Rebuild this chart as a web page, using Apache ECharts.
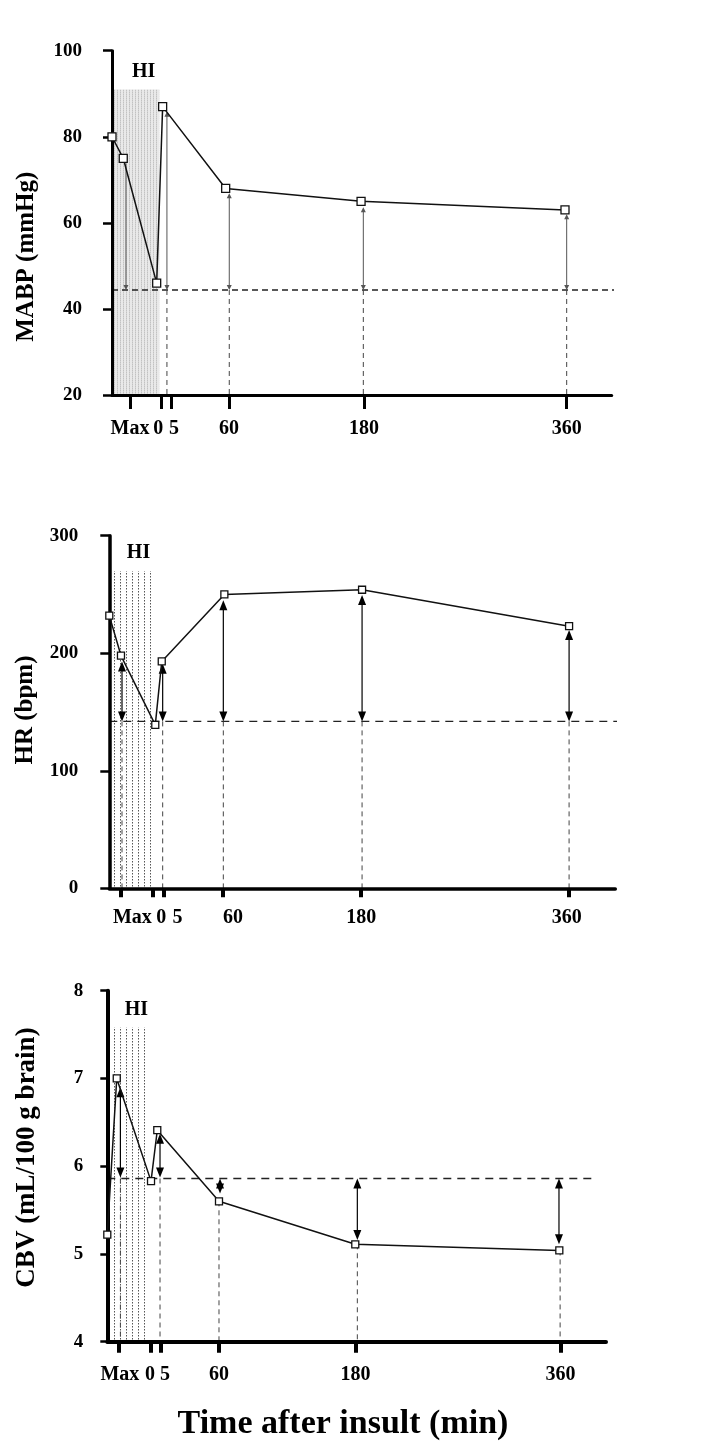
<!DOCTYPE html>
<html>
<head>
<meta charset="utf-8">
<script src="https://cdn.jsdelivr.net/npm/echarts@6/dist/echarts.min.js"></script>
<style>
html,body{margin:0;padding:0;background:#fff;}
#c{width:710px;height:1455px;}
</style>
</head>
<body>
<div id="c"></div>
<script>
// ---------- DATA ----------
// Broken time axis: tick labels and their positions (in minute-equivalent axis units)
const tickLabels = ['Max', '0', '5', '60', '180', '360'];
const tickPos = [-28, 0, 9, 60, 180, 360];

// Panel 1: MABP (mmHg)
const mabpX = [-44, -34, -4.3, 1.0, 57, 177.3, 358.5];
const mabpY = [80, 75, 46, 87, 68, 65, 63];
const mabpLabelPos = [-28, -3, 11, 60, 180, 360];
const mabpArrowX = [-31.6, 4.8, 60.2, 179.3, 360];
const mabpArrowTop = [73.8, 85.8, 66.9, 63.6, 62.0];
const mabpArrowBottom = [44.4, 44.4, 44.4, 44.4, 44.4];
const mabpHeadUp = [0, 1, 1, 1, 1];
const mabpHeadDown = [1, 1, 1, 1, 1];
const mabpDropX = [4.8, 60.2, 179.3, 360];
const mabpDropTop = [44.4, 44.4, 44.4, 44.4];
const mabpRef = 44.4;
const mabpRefX = [-44, 408.7];
const mabpShadeX = [-44, -2];
const mabpShadeTop = 91;

// Panel 2: HR (bpm)
const hrX = [-38, -27.9, 1.8, 7.4, 61.6, 180.8, 360];
const hrY = [232, 198, 139, 193, 250, 254, 223];
const hrLabelPos = [-18, 7, 21, 69, 180, 358];
const hrArrowX = [-27, 8.2, 60.7, 180.8, 360];
const hrArrowTop = [193, 191, 245, 249.6, 219.8];
const hrArrowBottom = [142, 142, 142, 142, 142];
const hrHeadUp = [1, 1, 1, 1, 1];
const hrHeadDown = [1, 1, 1, 1, 1];
const hrDropX = [-27, 8.2, 60.7, 180.8, 360];
const hrDropTop = [142, 142, 142, 142, 142];
const hrRef = 142;
const hrRefX = [-38, 405.6];
const hrShadeX = [-38, -1.3];
const hrShadeTop = 270;

// Panel 3: CBV (mL/100 g brain)
const cbvX = [-38, -29.7, 0.4, 5.9, 60.1, 179.8, 359];
const cbvY = [5.22, 7.0, 5.83, 6.41, 5.60, 5.11, 5.04];
const cbvLabelPos = [-27, -0.5, 12.7, 60, 180, 360];
const cbvArrowX = [-26.5, 8.3, 61, 181.6, 358.7];
const cbvArrowTop = [6.90, 6.37, 5.86, 5.86, 5.86];
const cbvArrowBottom = [5.87, 5.87, 5.69, 5.16, 5.11];
const cbvHeadUp = [1, 1, 1, 1, 1];
const cbvHeadDown = [1, 1, 1, 1, 1];
const cbvDropX = [-26.5, 8.3, 60.1, 181.6, 359.7];
const cbvDropTop = [5.86, 5.86, 5.60, 5.11, 5.04];
const cbvRef = 5.86;
const cbvRefX = [-38, 388.6];
const cbvShadeX = [-38, -1.1];
const cbvShadeTop = 7.58;

const yTitles = ['MABP (mmHg)', 'HR (bpm)', 'CBV (mL/100 g brain)'];
const xTitle = 'Time after insult (min)';

// ---------- STYLE / LAYOUT ----------
const FONT = '"Liberation Serif", "Times New Roman", serif';

function makePattern(w, h, bg, dots) {
  const c = document.createElement('canvas');
  c.width = w; c.height = h;
  const ctx = c.getContext('2d');
  if (bg) { ctx.fillStyle = bg; ctx.fillRect(0, 0, w, h); }
  dots.forEach(d => { ctx.fillStyle = d[2]; ctx.fillRect(d[0], d[1], 1, 1); });
  return c;
}
const patLight = makePattern(3, 2, '#e9e9e9', [[0, 0, '#c2c2c2'], [0, 1, '#d4d4d4']]);
const patDots = makePattern(6, 3, null, [[0, 0, '#555'], [0, 1, '#aaa']]);

const panels = [
  {
    grid: {left: 112, top: 50.7, width: 499.7, height: 344.3},
    xMin: -44, yMin: 20, yMax: 100, yInt: 20,
    x: mabpX, y: mabpY, labelPos: mabpLabelPos,
    arrows: [mabpArrowX, mabpArrowTop, mabpArrowBottom, mabpHeadUp, mabpHeadDown],
    drops: [mabpDropX, mabpDropTop],
    ref: mabpRef, refX: mabpRefX, shadeX: mabpShadeX, shadeTop: mabpShadeTop,
    pattern: patLight,
    axisW: 3, yTickLen: 9, xTickLen: 14, xTickW: 3, yLabelMargin: 30, xLabelMargin: 24,
    arrowStyle: {color: '#555', lw: 1, hw: 2.5, hh: 5},
    symSize: 8, lineW: 1.5, refDash: [6, 4],
    title: {x: 26.7, y: 256.7, size: 25}
  },
  {
    grid: {left: 109.3, top: 535.7, width: 506, height: 352.6},
    xMin: -38, yMin: 0, yMax: 300, yInt: 100,
    x: hrX, y: hrY, labelPos: hrLabelPos,
    arrows: [hrArrowX, hrArrowTop, hrArrowBottom, hrHeadUp, hrHeadDown],
    drops: [hrDropX, hrDropTop],
    ref: hrRef, refX: hrRefX, shadeX: hrShadeX, shadeTop: hrShadeTop,
    pattern: patDots,
    axisW: 3.5, yTickLen: 9, xTickLen: 9, xTickW: 4, yLabelMargin: 31, xLabelMargin: 20,
    arrowStyle: {color: '#000', lw: 1.2, hw: 4, hh: 10},
    symSize: 7, lineW: 1.5, refDash: [8, 6],
    title: {x: 26, y: 710, size: 25}
  },
  {
    grid: {left: 107.3, top: 990.7, width: 498.7, height: 351},
    xMin: -38, yMin: 4, yMax: 8, yInt: 1,
    x: cbvX, y: cbvY, labelPos: cbvLabelPos,
    arrows: [cbvArrowX, cbvArrowTop, cbvArrowBottom, cbvHeadUp, cbvHeadDown],
    drops: [cbvDropX, cbvDropTop],
    ref: cbvRef, refX: cbvRefX, shadeX: cbvShadeX, shadeTop: cbvShadeTop,
    pattern: patDots,
    axisW: 4, yTickLen: 7, xTickLen: 11, xTickW: 4, yLabelMargin: 24, xLabelMargin: 23,
    arrowStyle: {color: '#000', lw: 1.2, hw: 4, hh: 10},
    symSize: 7, lineW: 1.5, refDash: [8, 6],
    title: {x: 27.5, y: 1157.5, size: 27}
  }
];

const grids = [], xAxes = [], yAxes = [], series = [], graphics = [];

panels.forEach((p, i) => {
  grids.push(p.grid);
  const labelPos = p.labelPos;
  xAxes.push({
    type: 'value', gridIndex: i, min: p.xMin, max: 400, z: 6,
    splitLine: {show: false},
    axisLine: {show: true, onZero: false, lineStyle: {color: '#000', width: p.axisW}},
    axisTick: {show: true, customValues: tickPos, length: p.xTickLen, lineStyle: {color: '#000', width: p.xTickW}},
    axisLabel: {
      show: true, customValues: labelPos, margin: p.xLabelMargin,
      formatter: v => { const k = labelPos.indexOf(v); return k >= 0 ? tickLabels[k] : ''; },
      color: '#000', fontSize: 20, fontWeight: 'bold', fontFamily: FONT
    }
  });
  yAxes.push({
    type: 'value', gridIndex: i, min: p.yMin, max: p.yMax, interval: p.yInt, z: 6,
    splitLine: {show: false},
    axisLine: {show: true, onZero: false, lineStyle: {color: '#000', width: p.axisW}},
    axisTick: {show: true, length: p.yTickLen, lineStyle: {color: '#000', width: 2.5}},
    axisLabel: {margin: p.yLabelMargin, color: '#000', fontSize: 19, fontWeight: 'bold', fontFamily: FONT}
  });

  // reference dashed line + HI shading
  series.push({
    type: 'line', xAxisIndex: i, yAxisIndex: i, z: 2, clip: false,
    symbol: 'none', silent: true,
    data: [[p.refX[0], p.ref], [p.refX[1], p.ref]],
    lineStyle: {color: '#222', width: 1.3, type: p.refDash},
    markArea: {
      silent: true,
      itemStyle: {color: {image: p.pattern, repeat: 'repeat'}},
      label: {show: true, position: 'top', distance: 8, offset: [8, 0], formatter: 'HI',
              color: '#000', fontSize: 20, fontWeight: 'bold', fontFamily: FONT},
      data: [[{coord: [p.shadeX[0], p.yMin]}, {coord: [p.shadeX[1], p.shadeTop]}]]
    }
  });

  // dashed drop lines to the time axis
  const dropData = p.drops[0].map((x, k) => [x, p.drops[1][k]]);
  series.push({
    type: 'custom', xAxisIndex: i, yAxisIndex: i, z: 3, silent: true,
    encode: {x: 0, y: 1},
    data: dropData,
    renderItem: (params, api) => {
      const a = api.coord([api.value(0), api.value(1)]);
      const b = api.coord([api.value(0), p.yMin]);
      return {type: 'line', shape: {x1: a[0], y1: a[1], x2: b[0], y2: b[1]},
              style: {stroke: '#444', lineWidth: 1, lineDash: [5, 4]}};
    }
  });

  // double-headed arrows
  const A = p.arrows;
  const arrowData = A[0].map((x, k) => [x, A[1][k], A[2][k], A[3][k], A[4][k]]);
  const st = p.arrowStyle;
  series.push({
    type: 'custom', xAxisIndex: i, yAxisIndex: i, z: 4, silent: true,
    encode: {x: 0, y: [1, 2]},
    data: arrowData,
    renderItem: (params, api) => {
      const x = api.value(0);
      const up = api.value(3), down = api.value(4);
      const a = api.coord([x, api.value(1)]);
      const b = api.coord([x, api.value(2)]);
      const ch = [{type: 'line',
        shape: {x1: a[0], y1: a[1] + (up ? st.hh * 0.6 : 0), x2: b[0], y2: b[1] - (down ? st.hh * 0.6 : 0)},
        style: {stroke: st.color, lineWidth: st.lw}}];
      if (up) ch.push({type: 'polygon', shape: {points: [[a[0], a[1]], [a[0] - st.hw, a[1] + st.hh], [a[0] + st.hw, a[1] + st.hh]]},
                       style: {fill: st.color}});
      if (down) ch.push({type: 'polygon', shape: {points: [[b[0], b[1]], [b[0] - st.hw, b[1] - st.hh], [b[0] + st.hw, b[1] - st.hh]]},
                         style: {fill: st.color}});
      return {type: 'group', children: ch};
    }
  });

  // main measured series
  series.push({
    type: 'line', xAxisIndex: i, yAxisIndex: i, z: 8, clip: false,
    data: p.x.map((x, k) => [x, p.y[k]]),
    symbol: 'rect', symbolSize: p.symSize, showAllSymbol: true,
    lineStyle: {color: '#111', width: p.lineW},
    itemStyle: {color: '#fff', borderColor: '#111', borderWidth: 1.3}
  });

  graphics.push({
    type: 'text', x: p.title.x, y: p.title.y, rotation: Math.PI / 2,
    style: {text: yTitles[i], fill: '#000', fontSize: p.title.size, fontWeight: 'bold', fontFamily: FONT,
            align: 'center', verticalAlign: 'middle', textAlign: 'center', textVerticalAlign: 'middle'}
  });
});

graphics.push({
  type: 'text', x: 343, y: 1424,
  style: {text: xTitle, fill: '#000', fontSize: 34, fontWeight: 'bold', fontFamily: FONT,
          align: 'center', verticalAlign: 'middle', textAlign: 'center', textVerticalAlign: 'middle'}
});

const chart = echarts.init(document.getElementById('c'), null, {renderer: 'canvas'});
chart.setOption({
  animation: false,
  backgroundColor: '#fff',
  grid: grids,
  xAxis: xAxes,
  yAxis: yAxes,
  series: series,
  graphic: graphics
});
</script>
</body>
</html>
